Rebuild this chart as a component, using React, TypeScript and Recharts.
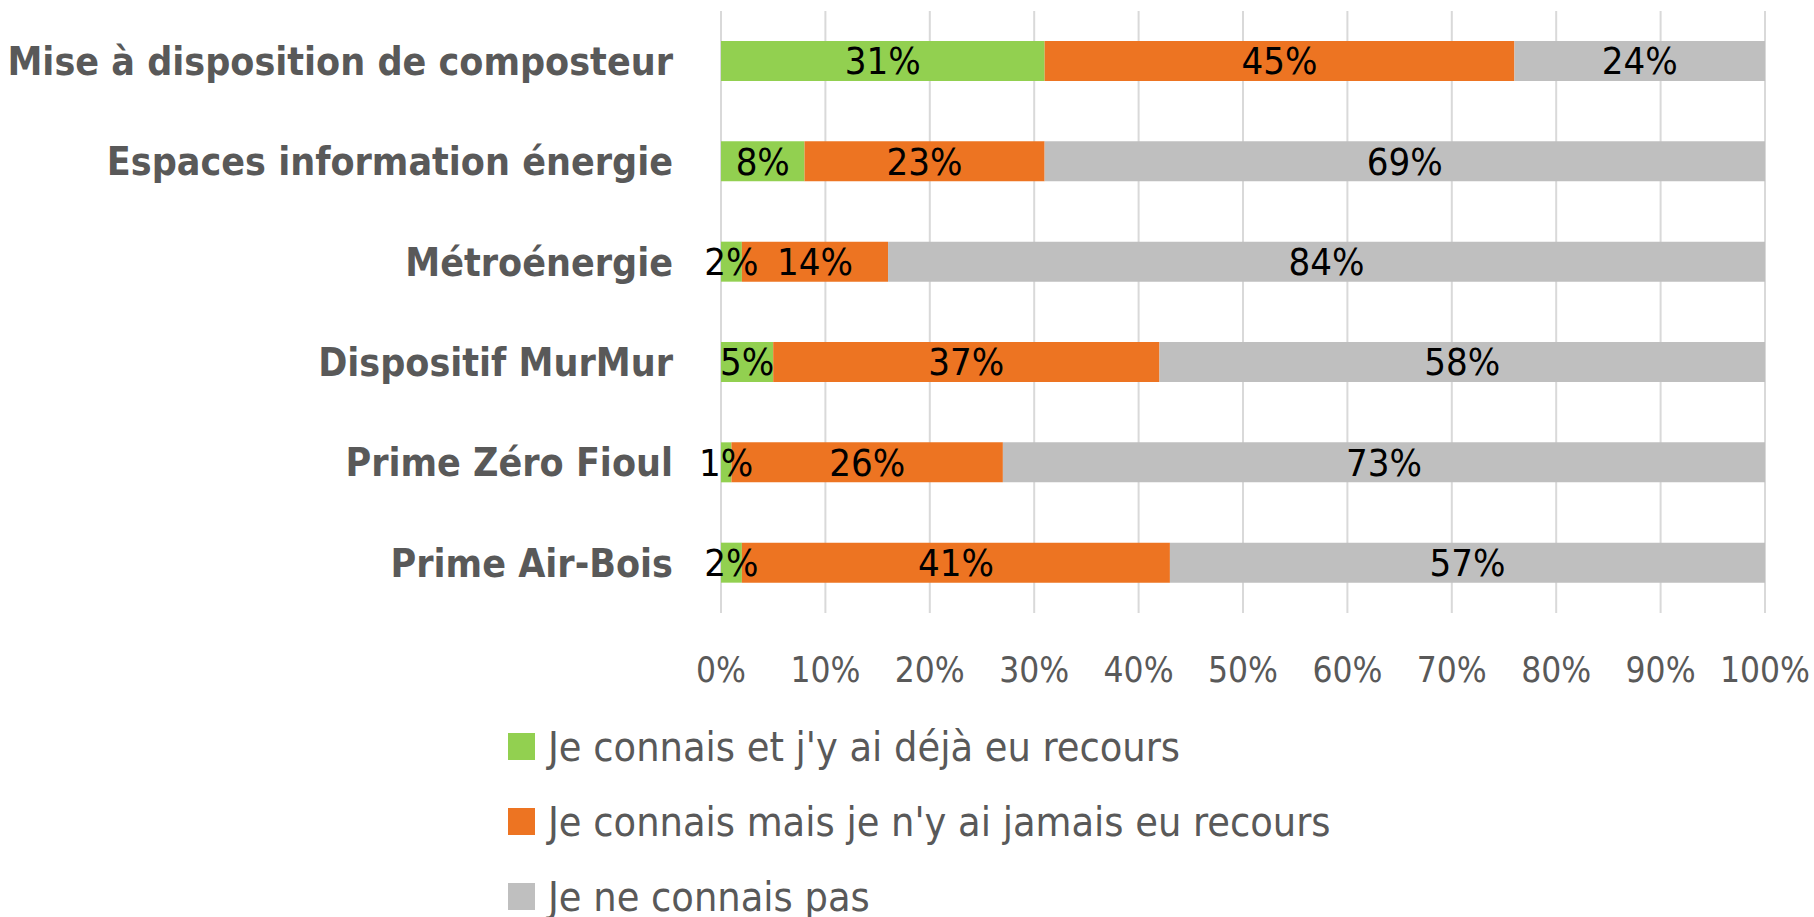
import React from 'react';
import { BarChart, Bar, XAxis, YAxis, CartesianGrid, Legend, LabelList } from 'recharts';

const categories = [
  'Mise à disposition de composteur',
  'Espaces information énergie',
  'Métroénergie',
  'Dispositif MurMur',
  'Prime Zéro Fioul',
  'Prime Air-Bois',
];

const dejaRecours = [31, 8, 2, 5, 1, 2];
const jamaisRecours = [45, 23, 14, 37, 26, 41];
const neConnaisPas = [24, 69, 84, 58, 73, 57];

const xTicks = [0, 10, 20, 30, 40, 50, 60, 70, 80, 90, 100];

const seriesNames = [
  "Je connais et j'y ai déjà eu recours",
  "Je connais mais je n'y ai jamais eu recours",
  'Je ne connais pas',
];
const seriesColors = ['#92D050', '#ED7422', '#BFBFBF'];

const data = categories.map((name, i) => ({
  name,
  deja: dejaRecours[i],
  jamais: jamaisRecours[i],
  pas: neConnaisPas[i],
}));

const FONT = "'DejaVu Sans Condensed', 'Liberation Sans Narrow', 'Roboto Condensed', 'DejaVu Sans', sans-serif";

const renderLegend = () => (
  <div style={{ fontFamily: FONT }}>
    {seriesNames.map((n, i) => (
      <div key={n} style={{ display: 'flex', alignItems: 'center', height: 75 }}>
        <span style={{ width: 27, height: 27, background: seriesColors[i], marginRight: 13, flexShrink: 0 }} />
        <span style={{ fontSize: 41, color: '#595959', whiteSpace: 'nowrap', lineHeight: '44px' }}>{n}</span>
      </div>
    ))}
  </div>
);

const pct = (v: any) => `${v}%`;

export default function App() {
  return (
    <div style={{ position: 'absolute', left: 0, top: 0, width: 1814, height: 917, background: '#fff', fontFamily: FONT, overflow: 'hidden' }}>
      <BarChart
        width={1814}
        height={917}
        data={data}
        layout="vertical"
        margin={{ top: 11, right: 49, left: 0, bottom: 0 }}
        barSize={40}
      >
        <CartesianGrid horizontal={false} stroke="#D9D9D9" strokeWidth={2} />
        <XAxis
          type="number"
          domain={[0, 100]}
          ticks={xTicks}
          tickFormatter={pct}
          axisLine={false}
          tickLine={false}
          tickSize={0}
          tickMargin={44}
          height={100}
          interval={0}
          tick={{ fill: '#595959', fontSize: 35 }}
        />
        <YAxis
          type="category"
          dataKey="name"
          width={721}
          axisLine={false}
          tickLine={false}
          tickSize={0}
          tickMargin={48}
          interval={0}
          tick={{ fill: '#595959', fontSize: 39, fontWeight: 'bold' }}
        />
        <Legend
          content={renderLegend}
          wrapperStyle={{ left: 508, top: 709, width: 950, height: 204 }}
        />
        <Bar dataKey="deja" name={seriesNames[0]} stackId="a" fill={seriesColors[0]} isAnimationActive={false}>
          <LabelList dataKey="deja" position="center" formatter={pct} fill="#000" fontSize={38} />
        </Bar>
        <Bar dataKey="jamais" name={seriesNames[1]} stackId="a" fill={seriesColors[1]} isAnimationActive={false}>
          <LabelList dataKey="jamais" position="center" formatter={pct} fill="#000" fontSize={38} />
        </Bar>
        <Bar dataKey="pas" name={seriesNames[2]} stackId="a" fill={seriesColors[2]} isAnimationActive={false}>
          <LabelList dataKey="pas" position="center" formatter={pct} fill="#000" fontSize={38} />
        </Bar>
      </BarChart>
    </div>
  );
}
